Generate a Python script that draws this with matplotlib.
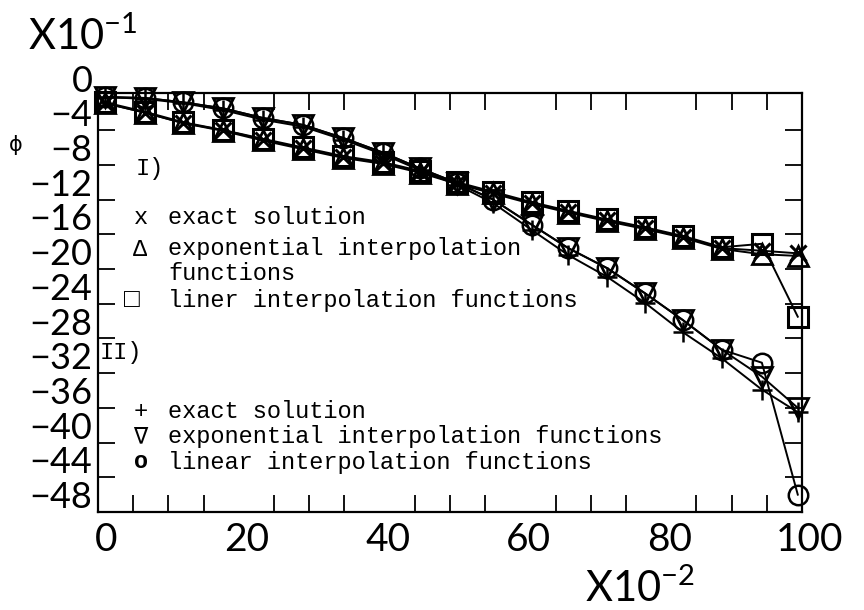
import numpy as np
import matplotlib
matplotlib.use("Agg")
from matplotlib import pyplot as plt
from matplotlib.transforms import ScaledTranslation

""" DATA (read from the figure) """

# x positions of the nodes (in units of 10^-2)
x_nodes = [1.0, 6.7, 12.1, 17.8, 23.4, 29.1, 34.8, 40.5, 45.7, 51.0,
           56.1, 61.6, 66.8, 72.3, 77.7, 83.1, 88.6, 94.3, 99.4]

# case I)  (values in units of 10^-1)
exact_I = [-2.9, -4.0, -5.2, -6.0, -7.1, -8.1, -9.1, -9.8, -10.8, -12.1,
           -13.2, -14.4, -15.4, -16.4, -17.3, -18.3, -19.6, -19.9, -20.2]
expo_I = [-2.9, -4.0, -5.2, -6.1, -7.2, -8.2, -9.2, -9.9, -10.9, -12.2,
          -13.3, -14.5, -15.5, -16.5, -17.4, -18.4, -19.7, -20.3, -20.5]
lin_I = [-2.8, -3.9, -5.1, -6.0, -7.0, -8.0, -9.0, -9.7, -10.7, -12.0,
         -13.1, -14.3, -15.3, -16.3, -17.2, -18.2, -19.5, -19.1, -27.5]

# case II)
exact_II = [-2.2, -2.4, -2.9, -3.7, -4.8, -5.6, -7.1, -8.8, -10.6, -12.3,
            -14.4, -17.5, -20.4, -22.9, -25.9, -29.3, -32.3, -35.9, -38.5]
expo_II = [-2.2, -2.3, -2.8, -3.5, -4.6, -5.4, -6.9, -8.6, -10.4, -12.1,
           -14.0, -16.9, -19.6, -21.9, -24.8, -27.9, -31.3, -34.4, -38.0]
lin_II = [-2.2, -2.3, -2.8, -3.5, -4.6, -5.4, -6.9, -8.6, -10.4, -12.1,
          -14.0, -16.9, -19.6, -21.9, -24.8, -27.9, -31.3, -32.8, -48.0]

x_ticks = [0, 20, 40, 60, 80, 100]
y_ticks = [0, -4, -8, -12, -16, -20, -24, -28, -32, -36, -40, -44, -48]

""" FIGURE """
W, H = 864, 610
mono = ["Liberation Mono", "DejaVu Sans Mono"]
plt.rcParams["mathtext.default"] = "regular"
plt.rcParams["font.family"] = ["Lato", "DejaVu Sans"]

fig = plt.figure(figsize=(W / 100, H / 100), dpi=100, facecolor="white")
ax = fig.add_axes([98 / W, 1 - 512 / H, 704 / W, (512 - 78) / H])

ax.set_xlim(0, 100)
ax.set_ylim(-50, 0)

# lines + markers
style = dict(color="black", lw=1.4, markerfacecolor="none",
             markeredgecolor="black", clip_on=False)
ax.plot(x_nodes, exact_I, marker="x", ms=12, mew=2.2, **style)
ax.plot(x_nodes, expo_I, marker="^", ms=14, mew=2.0, **style)
ax.plot(x_nodes, lin_I, marker="s", ms=14, mew=2.2, **style)
ax.plot(x_nodes, exact_II, marker="+", ms=15, mew=1.8, **style)
ax.plot(x_nodes, expo_II, marker="v", ms=14, mew=2.0, **style)
ax.plot(x_nodes, lin_II, marker="o", ms=14, mew=1.8, **style)

# frame: top of the box sits a bit under the "0" label
top_y = -1.7
ax.spines["top"].set_position(("data", top_y))
ax.spines["left"].set_bounds(-50, top_y)
ax.spines["right"].set_bounds(-50, top_y)
for s in ax.spines.values():
    s.set_linewidth(1.6)

ax.set_xticks(x_ticks)
ax.set_xticklabels([str(v) for v in x_ticks])
ax.set_xticks(np.arange(0, 101, 5), minor=True)
ax.set_yticks(y_ticks)
ax.set_yticks(np.arange(-48, -3, 2), minor=True)

ax.tick_params(which="major", length=0)
ax.tick_params(axis="x", which="major", labelsize=28, pad=7)
ax.tick_params(axis="y", which="major", labelsize=26, pad=4)
ax.tick_params(which="minor", direction="in", length=12, width=1.3,
               top=True, right=True, bottom=True, left=True)

# x labels sit a little right of their ticks in the original
shift = ScaledTranslation(8 / 100, 0, fig.dpi_scale_trans)
for lab in ax.get_xticklabels():
    lab.set_transform(lab.get_transform() + shift)

# scale factors
fig.text(28 / W, 1 - 36 / H, "X10$^{-1}$", fontsize=30, ha="left", va="center")
fig.text(585 / W, 1 - 588 / H, "X10$^{-2}$", fontsize=30, ha="left", va="center")
fig.text(16 / W, 1 - 145 / H, "ϕ", fontsize=15, ha="center", va="center",
         family="DejaVu Sans")

# legend written in the plot
def put(px, py, s, size=17, **kw):
    fig.text(px / W, 1 - py / H, s, family=mono, fontsize=size,
             ha="left", va="center", **kw)

put(136, 168, "I)")
put(134, 218, "x")
put(168, 218, "exact solution")
put(133, 249, "Δ")
put(168, 249, "exponential interpolation")
put(168, 274, "functions")
put(124, 300, "□", size=19, fontweight="bold")
put(168, 300, "liner interpolation functions")
put(100, 353, "II)")
put(134, 412, "+")
put(168, 412, "exact solution")
put(133, 437, "∇")
put(168, 437, "exponential interpolation functions")
put(134, 462, "o", fontweight="bold")
put(168, 462, "linear interpolation functions")

fig.savefig("out.png", dpi=100, facecolor="white")
